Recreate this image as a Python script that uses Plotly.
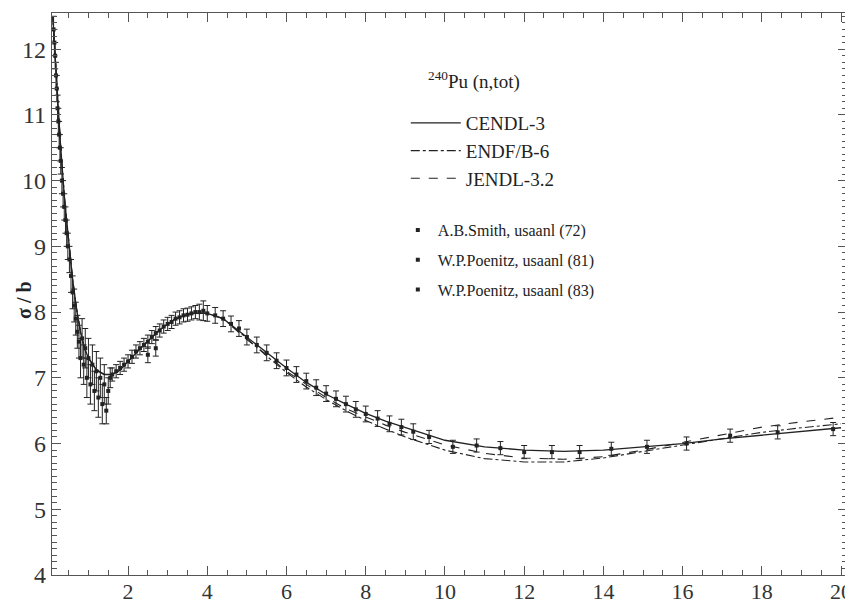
import plotly.graph_objects as go

# ---- evaluated curves ----
E_grid = [0.1, 0.15, 0.2, 0.25, 0.3, 0.4, 0.5, 0.6, 0.7, 0.8, 0.9, 1.0, 1.2, 1.4, 1.6, 1.8,
          2.0, 2.4, 2.8, 3.2, 3.6, 4.0, 4.4, 5.0, 5.5, 6.0, 6.5, 7.0, 7.5, 8.0, 8.5, 9.0,
          9.5, 10, 11, 12, 13, 14, 15, 16, 17, 18, 19, 20]
cendl3 = [12.5, 12.0, 11.4, 10.95, 10.5, 9.7, 9.05, 8.5, 8.05, 7.7, 7.45, 7.3, 7.12, 7.05, 7.05, 7.12,
          7.25, 7.5, 7.73, 7.9, 7.98, 7.98, 7.9, 7.62, 7.38, 7.15, 6.93, 6.75, 6.6, 6.46, 6.34, 6.24,
          6.15, 6.05, 5.95, 5.9, 5.88, 5.9, 5.95, 6.0, 6.07, 6.13, 6.19, 6.24]
endfb6 = [12.5, 12.0, 11.4, 10.95, 10.5, 9.7, 9.05, 8.5, 8.05, 7.7, 7.45, 7.3, 7.12, 7.05, 7.05, 7.12,
          7.25, 7.5, 7.73, 7.9, 7.98, 7.98, 7.9, 7.6, 7.33, 7.08, 6.86, 6.67, 6.5, 6.35, 6.22, 6.1,
          6.0, 5.9, 5.77, 5.72, 5.72, 5.78, 5.88, 5.98, 6.08, 6.17, 6.24, 6.3]
jendl32 = [12.5, 12.0, 11.4, 10.95, 10.5, 9.7, 9.05, 8.5, 8.05, 7.7, 7.45, 7.3, 7.12, 7.05, 7.05, 7.12,
           7.25, 7.5, 7.73, 7.9, 7.98, 7.98, 7.9, 7.58, 7.35, 7.1, 6.9, 6.7, 6.53, 6.4, 6.28, 6.17,
           6.07, 5.98, 5.85, 5.78, 5.76, 5.8, 5.9, 6.02, 6.14, 6.25, 6.33, 6.4]

# ---- experimental data ----
smith72_E = [0.12, 0.14, 0.16, 0.18, 0.20, 0.22, 0.24, 0.26, 0.28, 0.30, 0.33, 0.36, 0.39, 0.42,
             0.45, 0.48, 0.52, 0.56, 0.60, 0.64, 0.68, 0.72, 0.76, 0.80, 0.84, 0.88, 0.92, 0.96,
             1.00, 1.05, 1.10, 1.15, 1.20, 1.25, 1.30, 1.35, 1.40, 1.45, 1.50, 1.55]
smith72_s = [12.3, 12.1, 11.9, 11.6, 11.4, 11.1, 10.9, 10.7, 10.5, 10.3, 10.0, 9.8, 9.6, 9.4,
             9.2, 9.0, 8.8, 8.55, 8.3, 8.1, 7.9, 7.7, 7.55, 7.3, 7.6, 7.2, 7.45, 7.0,
             7.3, 6.9, 7.2, 6.8, 7.1, 6.7, 7.0, 6.6, 6.9, 6.5, 6.8, 7.0]
smith72_err = [0.2, 0.2, 0.2, 0.2, 0.2, 0.2, 0.2, 0.2, 0.2, 0.2, 0.2, 0.2, 0.2, 0.2,
               0.2, 0.2, 0.2, 0.25, 0.25, 0.25, 0.25, 0.25, 0.25, 0.3, 0.3, 0.3, 0.3, 0.3,
               0.3, 0.3, 0.3, 0.3, 0.3, 0.3, 0.3, 0.3, 0.3, 0.2, 0.2, 0.15]

poen81_E = [1.6, 1.7, 1.8, 1.9, 2.0, 2.1, 2.2, 2.3, 2.4, 2.5, 2.5, 2.6, 2.7, 2.7, 2.8, 2.9, 3.0,
            3.1, 3.2, 3.3, 3.4, 3.5, 3.6, 3.7, 3.8, 3.9, 4.0, 4.2, 4.4, 4.6]
poen81_s = [7.05, 7.1, 7.15, 7.2, 7.25, 7.32, 7.4, 7.45, 7.5, 7.55, 7.35, 7.62, 7.68, 7.45, 7.72,
            7.78, 7.82, 7.85, 7.9, 7.92, 7.95, 7.96, 7.98, 8.0, 8.0, 8.02, 7.98, 7.95, 7.9, 7.82]
poen81_err = [0.1, 0.1, 0.1, 0.1, 0.1, 0.1, 0.1, 0.1, 0.1, 0.1, 0.12, 0.1, 0.1, 0.12, 0.1,
              0.1, 0.1, 0.1, 0.1, 0.1, 0.1, 0.1, 0.1, 0.1, 0.12, 0.15, 0.12, 0.12, 0.12, 0.12]

poen83_E = [4.8, 5.0, 5.25, 5.5, 5.75, 6.0, 6.25, 6.5, 6.75, 7.0, 7.25, 7.5, 7.75, 8.0, 8.3,
            8.6, 8.9, 9.2, 9.6, 10.2, 10.8, 11.4, 12.0, 12.7, 13.4, 14.2, 15.1, 16.1, 17.2,
            18.4, 19.8]
poen83_s = [7.75, 7.62, 7.5, 7.38, 7.26, 7.15, 7.05, 6.95, 6.85, 6.76, 6.68, 6.6, 6.52, 6.45,
            6.38, 6.3, 6.25, 6.18, 6.1, 5.95, 5.97, 5.93, 5.87, 5.87, 5.87, 5.92, 5.95, 6.0,
            6.12, 6.17, 6.22]
poen83_err = [0.12, 0.12, 0.12, 0.12, 0.12, 0.12, 0.12, 0.12, 0.12, 0.12, 0.12, 0.12, 0.12,
              0.12, 0.12, 0.12, 0.12, 0.12, 0.1, 0.1, 0.1, 0.1, 0.1, 0.1, 0.1, 0.1, 0.1,
              0.1, 0.1, 0.1, 0.1]

x_ticks = [2, 4, 6, 8, 10, 12, 14, 16, 18, 20]
y_ticks = [4, 5, 6, 7, 8, 9, 10, 11, 12]

FONT = "Liberation Serif"
INK = "#222222"

fig = go.Figure()

fig.add_trace(go.Scatter(x=E_grid, y=cendl3, mode="lines", name="CENDL-3",
                         line=dict(color=INK, width=1.3, dash="solid"), legend="legend"))
fig.add_trace(go.Scatter(x=E_grid, y=endfb6, mode="lines", name="ENDF/B-6",
                         line=dict(color=INK, width=1.1, dash="dashdot"), legend="legend"))
fig.add_trace(go.Scatter(x=E_grid, y=jendl32, mode="lines", name="JENDL-3.2",
                         line=dict(color=INK, width=1.1, dash="dash"), legend="legend"))

for i, (name, xs, ys, es) in enumerate([
    ("A.B.Smith, usaanl (72)", smith72_E, smith72_s, smith72_err),
    ("W.P.Poenitz, usaanl (81)", poen81_E, poen81_s, poen81_err),
    ("W.P.Poenitz, usaanl (83)", poen83_E, poen83_s, poen83_err),
]):
    fig.add_trace(go.Scatter(
        x=xs, y=ys, mode="markers", name=name, legend="legend2", legendgroup=f"exp{i}",
        marker=dict(color=INK, size=4, symbol="square"),
        error_y=dict(type="data", array=es, visible=True, color=INK, thickness=1, width=3),
    ))

axis_common = dict(
    showgrid=False, zeroline=False, showline=True, linecolor="#555555", linewidth=1.2,
    mirror="ticks", ticks="inside", tickcolor="#555555", automargin=False,
    ticklabeloverflow="allow",
)

fig.update_xaxes(range=[0.08, 20.15], tickvals=x_ticks, ticklen=9, tickwidth=1.2,
                 tickfont=dict(family=FONT, size=22, color="#333333"), ticklabelstandoff=-4,
                 minor=dict(dtick=0.5, tick0=0, ticks="inside", ticklen=5, tickcolor="#555555"),
                 **axis_common)
fig.update_yaxes(range=[4, 12.55], tickvals=y_ticks, ticklen=9, tickwidth=1.2,
                 tickfont=dict(family=FONT, size=24, color="#333333"),
                 minor=dict(dtick=0.1, tick0=0, ticks="inside", ticklen=5, tickcolor="#555555"),
                 **axis_common)

fig.add_annotation(text="<b>σ / b</b>", xref="paper", yref="paper", x=-0.036, y=0.49,
                   textangle=-90, showarrow=False, xanchor="center", yanchor="middle",
                   font=dict(family=FONT, size=20, color="#222222"))

fig.add_annotation(text="<sup>240</sup>Pu (n,tot)", xref="paper", yref="paper",
                   x=0.47, y=0.88, xanchor="left", yanchor="middle", showarrow=False,
                   font=dict(family=FONT, size=19, color="#222222"))

fig.update_layout(
    width=845, height=596,
    margin=dict(l=44, r=6, t=5, b=29),
    paper_bgcolor="white", plot_bgcolor="white",
    showlegend=True,
    legend=dict(x=0.445, y=0.838, xanchor="left", yanchor="top",
                bgcolor="rgba(0,0,0,0)", borderwidth=0,
                font=dict(family=FONT, size=19, color="#222222"),
                itemwidth=50),
    legend2=dict(x=0.435, y=0.644, xanchor="left", yanchor="top",
                 bgcolor="rgba(0,0,0,0)", borderwidth=0,
                 font=dict(family=FONT, size=16, color="#222222"),
                 itemwidth=30, tracegroupgap=6),
)

fig.write_html("out.html")
